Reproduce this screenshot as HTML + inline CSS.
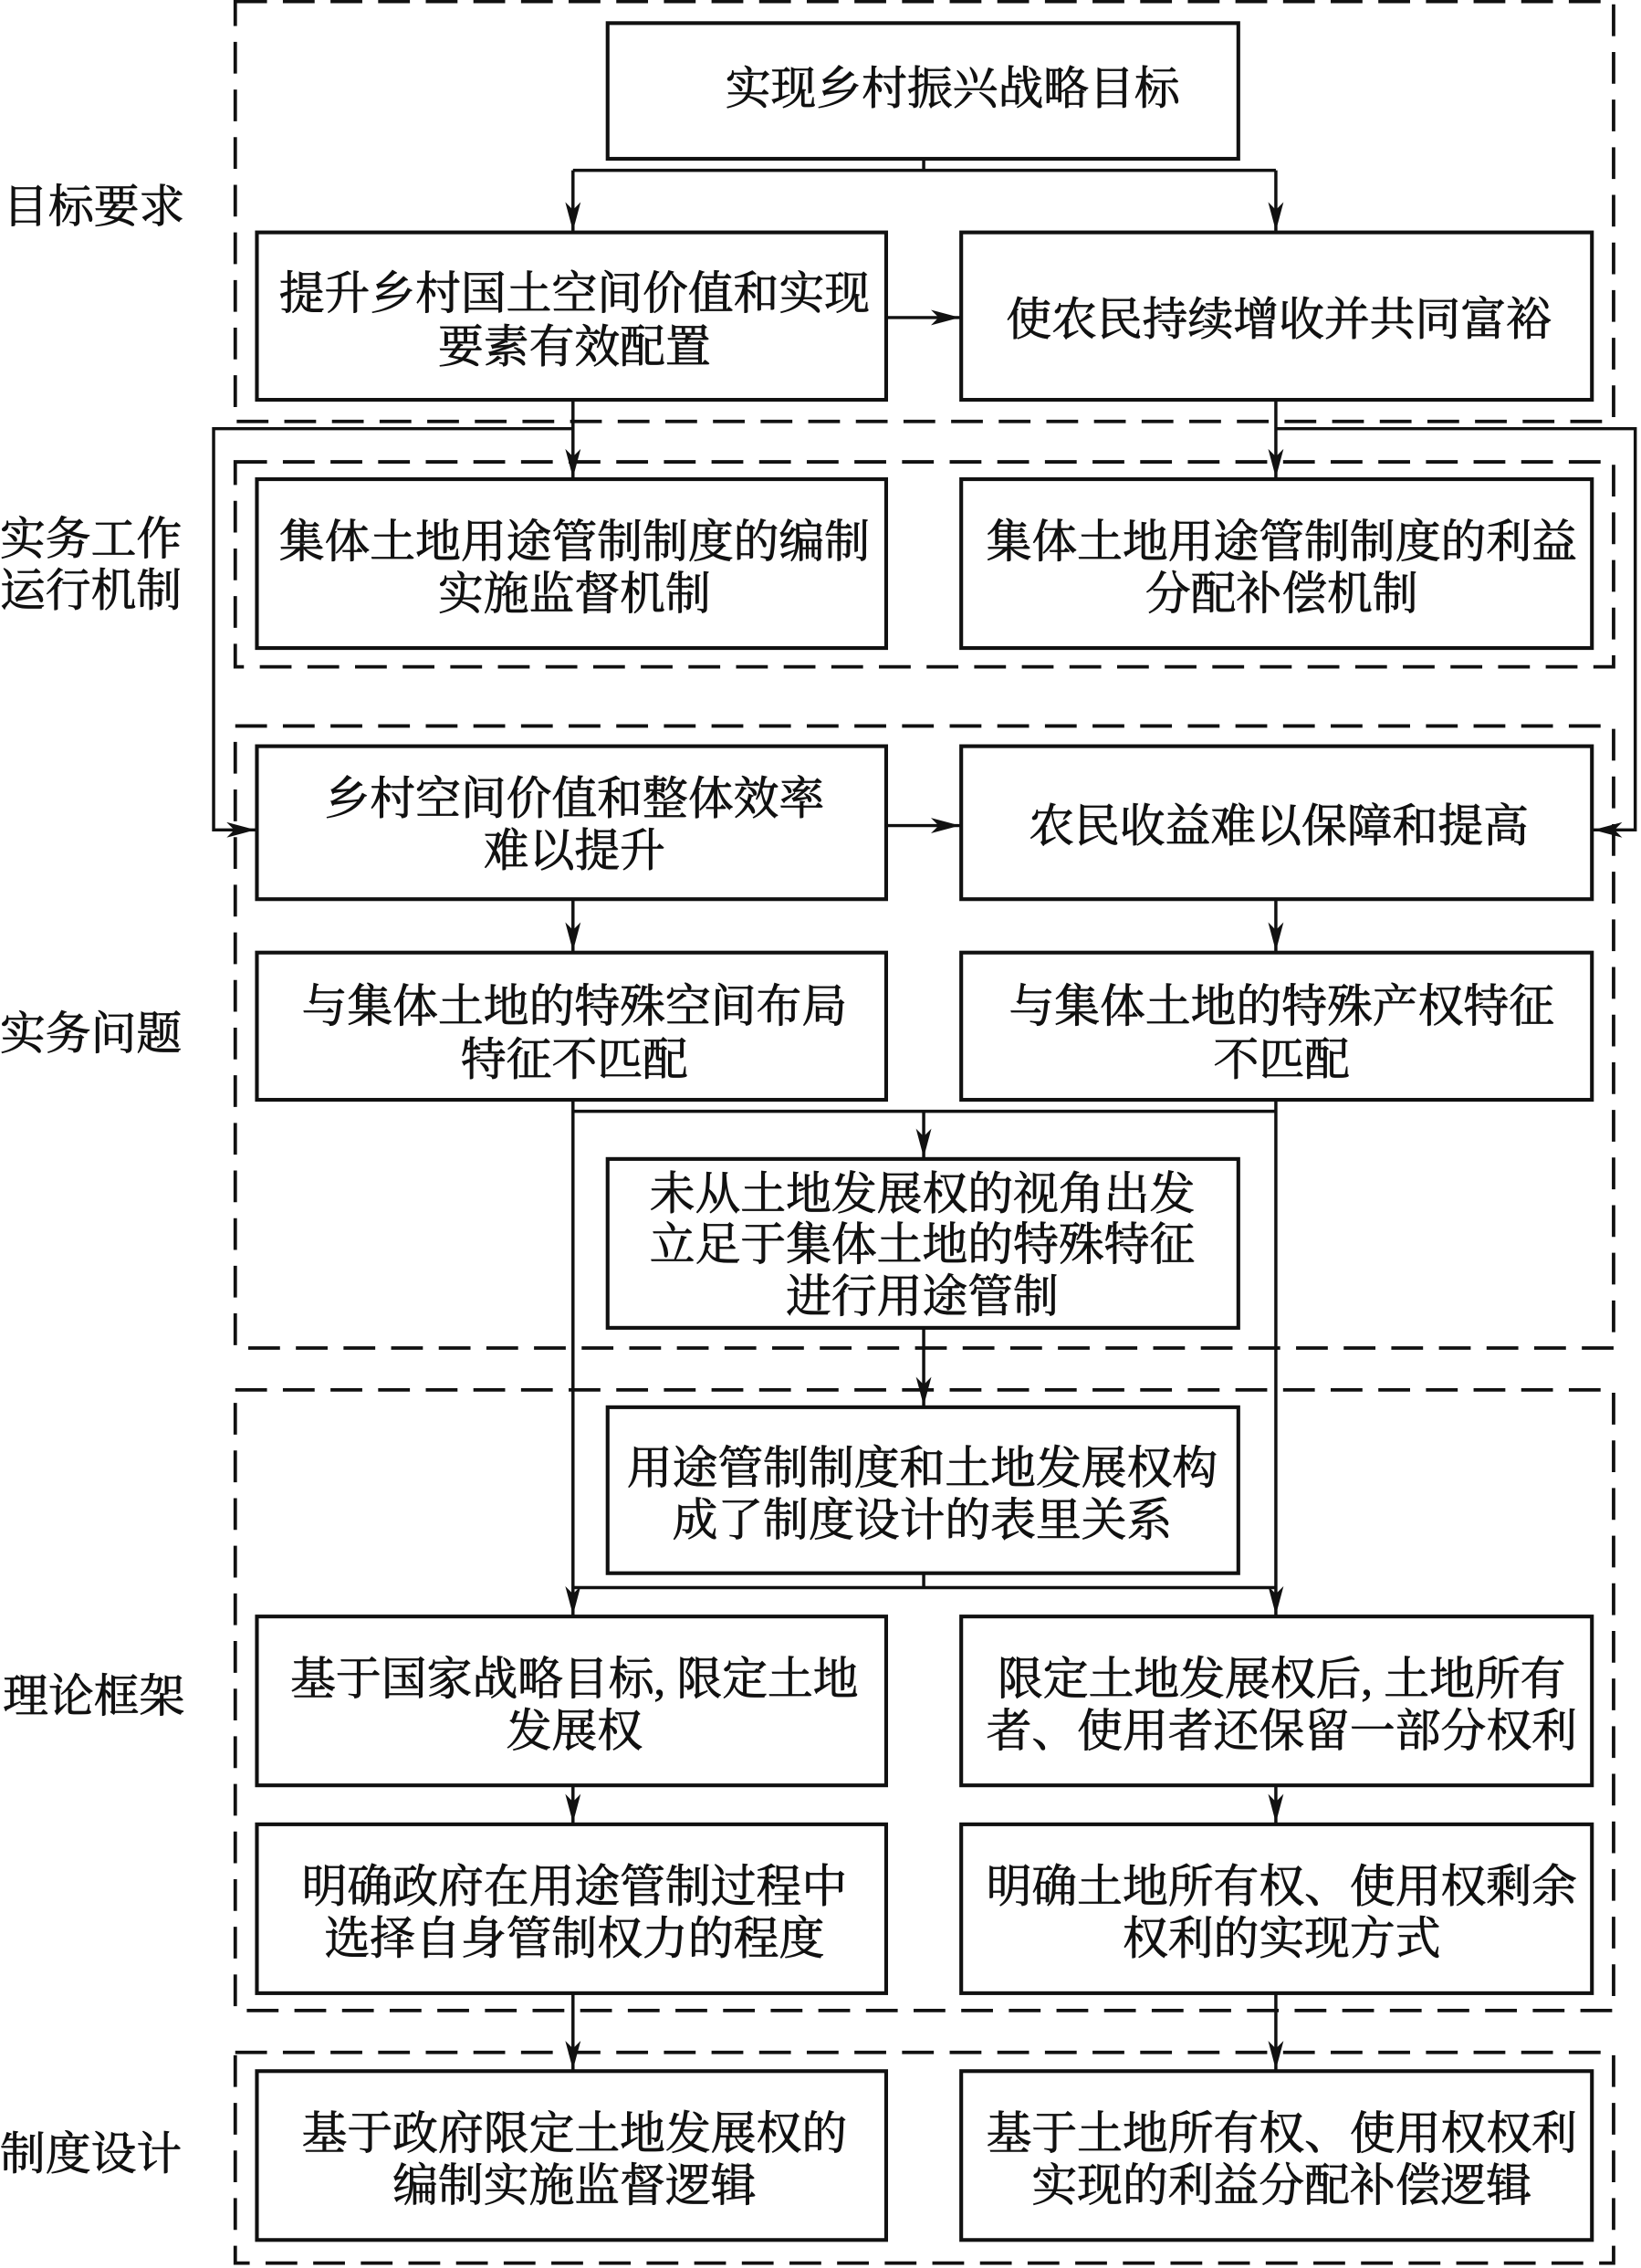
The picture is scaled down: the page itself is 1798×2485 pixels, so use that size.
<!DOCTYPE html>
<html><head><meta charset="utf-8"><style>html,body{margin:0;padding:0;background:#fff}svg{display:block}</style></head>
<body>
<svg width="1798" height="2485" viewBox="0 0 1137 1571.4" xmlns="http://www.w3.org/2000/svg">
<defs>
<marker id="b" markerWidth="20" markerHeight="30" refX="30" refY="8" orient="auto" markerUnits="userSpaceOnUse" viewBox="0 0 30 16"><path d="M0,0 L30,8 L0,16 L8,8 z" fill="#111"/></marker></defs>
<g fill="none" stroke="#111" stroke-width="2.4" stroke-dasharray="22,11">
<rect x="163" y="1" width="955" height="291"/>
<rect x="163" y="320" width="955" height="142"/>
<rect x="163" y="503" width="955" height="431"/>
<rect x="163" y="963" width="955" height="430"/>
<rect x="163" y="1422" width="955" height="146"/>
</g>
<g fill="#fff" stroke="#111" stroke-width="2.6">
<rect x="421" y="16" width="437" height="94"/>
<rect x="178" y="161" width="436" height="116"/><rect x="666" y="161" width="437" height="116"/>
<rect x="178" y="332" width="436" height="117"/><rect x="666" y="332" width="437" height="117"/>
<rect x="178" y="517" width="436" height="106"/><rect x="666" y="517" width="437" height="106"/>
<rect x="178" y="660" width="436" height="102"/><rect x="666" y="660" width="437" height="102"/>
<rect x="421" y="803" width="437" height="117"/>
<rect x="421" y="975" width="437" height="115"/>
<rect x="178" y="1120" width="436" height="117"/><rect x="666" y="1120" width="437" height="117"/>
<rect x="178" y="1264" width="436" height="117"/><rect x="666" y="1264" width="437" height="117"/>
<rect x="178" y="1435" width="436" height="117"/><rect x="666" y="1435" width="437" height="117"/>
</g>
<g fill="none" stroke="#111" stroke-width="2.2">
<path d="M640,110 V118 M397,118 H884"/>
<path d="M397,118 V160" marker-end="url(#b)"/><path d="M884,118 V160" marker-end="url(#b)"/>
<path d="M614,220 H665" marker-end="url(#b)"/>
<path d="M397,277 V331" marker-end="url(#b)"/><path d="M884,277 V331" marker-end="url(#b)"/>
<path d="M397,297 H148 V575 H177" marker-end="url(#b)"/>
<path d="M884,297 H1133 V575 H1104" marker-end="url(#b)"/>
<path d="M614,572 H665" marker-end="url(#b)"/>
<path d="M397,623 V659" marker-end="url(#b)"/><path d="M884,623 V659" marker-end="url(#b)"/>
<path d="M397,770 H884"/>
<path d="M640,770 V802" marker-end="url(#b)"/>
<path d="M397,762 V1119" marker-end="url(#b)"/><path d="M884,762 V1119" marker-end="url(#b)"/>
<path d="M640,920 V974" marker-end="url(#b)"/>
<path d="M640,1090 V1100 M397,1100 H884"/>
<path d="M397,1237 V1263" marker-end="url(#b)"/><path d="M884,1237 V1263" marker-end="url(#b)"/>
<path d="M397,1381 V1434" marker-end="url(#b)"/><path d="M884,1381 V1434" marker-end="url(#b)"/>
</g>
<g font-family="'Liberation Serif','Noto Serif CJK SC',serif" font-size="31.5" fill="#111" stroke="#111" stroke-width="0.5" text-anchor="middle">
<text x="660" y="72">实现乡村振兴战略目标</text>
<text x="398" y="214">提升乡村国土空间价值和实现</text><text x="398" y="251">要素有效配置</text>
<text x="886" y="232">使农民持续增收并共同富裕</text>
<text x="398" y="386">集体土地用途管制制度的编制</text><text x="398" y="422">实施监督机制</text>
<text x="888" y="386">集体土地用途管制制度的利益</text><text x="888" y="422">分配补偿机制</text>
<text x="398" y="564">乡村空间价值和整体效率</text><text x="398" y="600">难以提升</text>
<text x="886" y="583">农民收益难以保障和提高</text>
<text x="398" y="708">与集体土地的特殊空间布局</text><text x="398" y="745">特征不匹配</text>
<text x="888" y="708">与集体土地的特殊产权特征</text><text x="888" y="745">不匹配</text>
<text x="639" y="838">未从土地发展权的视角出发</text><text x="639" y="873">立足于集体土地的特殊特征</text><text x="639" y="909">进行用途管制</text>
<text x="639" y="1028">用途管制制度和土地发展权构</text><text x="639" y="1064">成了制度设计的表里关系</text>
<text x="398" y="1174">基于国家战略目标, 限定土地</text><text x="398" y="1210">发展权</text>
<text x="888" y="1174">限定土地发展权后, 土地所有</text><text x="888" y="1210">者、使用者还保留一部分权利</text>
<text x="398" y="1318">明确政府在用途管制过程中</text><text x="398" y="1354">选择自身管制权力的程度</text>
<text x="888" y="1318">明确土地所有权、使用权剩余</text><text x="888" y="1354">权利的实现方式</text>
<text x="398" y="1489">基于政府限定土地发展权的</text><text x="398" y="1525">编制实施监督逻辑</text>
<text x="888" y="1489">基于土地所有权、使用权权利</text><text x="888" y="1525">实现的利益分配补偿逻辑</text>
</g>
<g font-family="'Liberation Serif','Noto Serif CJK SC',serif" font-size="31.5" fill="#111" stroke="#111" stroke-width="0.5">
<text x="2" y="154">目标要求</text>
<text x="0" y="384">实务工作</text><text x="0" y="420">运行机制</text>
<text x="0" y="727">实务问题</text>
<text x="2" y="1186">理论框架</text>
<text x="0" y="1503">制度设计</text>
</g>
</svg>
</body></html>
